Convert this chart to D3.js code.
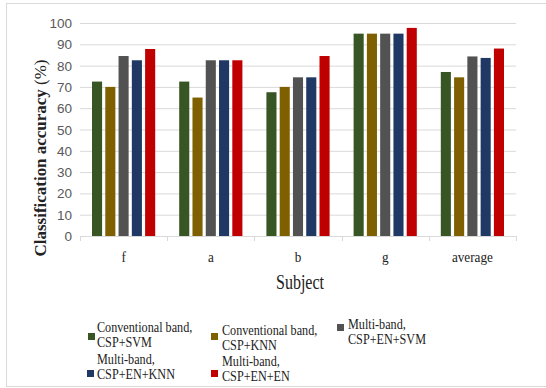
<!DOCTYPE html>
<html><head><meta charset="utf-8">
<script src="https://cdn.jsdelivr.net/npm/d3@7"></script>
<style>body{margin:0;background:#fff}svg{display:block}</style>
</head><body>
<script>
const categories = ["f", "a", "b", "g", "average"];
const seriesNames = ["Conventional band, CSP+SVM", "Conventional band, CSP+KNN", "Multi-band, CSP+EN+SVM", "Multi-band, CSP+EN+KNN", "Multi-band, CSP+EN+EN"];
const legendLines = [["Conventional band,", "CSP+SVM"], ["Conventional band,", "CSP+KNN"], ["Multi-band,", "CSP+EN+SVM"], ["Multi-band,", "CSP+EN+KNN"], ["Multi-band,", "CSP+EN+EN"]];
const convSVM = [72.5, 72.5, 67.5, 95, 77];
const convKNN = [70, 65, 70, 95, 74.5];
const multiSVM = [84.5, 82.5, 74.5, 95, 84.3];
const multiKNN = [82.5, 82.5, 74.5, 95, 83.6];
const multiEN = [87.8, 82.5, 84.5, 97.7, 88];
const yTicks = [0, 10, 20, 30, 40, 50, 60, 70, 80, 90, 100];
const colors = ["#375623", "#7f6000", "#525252", "#1f3864", "#c00000"];
const series = [convSVM, convKNN, multiSVM, multiKNN, multiEN];

const W = 546, H = 388;
const SERIF = "'Liberation Serif', 'Times New Roman', serif";
const svg = d3.select("body").append("svg").attr("width", W).attr("height", H);
svg.append("rect").attr("x", 6.5).attr("y", 3.5).attr("width", 545).attr("height", 383)
  .attr("fill", "none").attr("stroke", "#d9d9d9");

const x0 = d3.scaleBand().domain(categories).range([80, 516]).paddingInner(0).paddingOuter(0);
const x1 = d3.scaleBand().domain(d3.range(5)).range([12, x0.bandwidth() - 12]).paddingInner(0.24).paddingOuter(0);
const y = d3.scaleLinear().domain([0, 100]).range([236, 23]);

// grid
svg.append("g").selectAll("line").data(yTicks.filter(d => d > 0)).join("line")
  .attr("x1", 80).attr("x2", 516).attr("y1", d => y(d) + 0.5).attr("y2", d => y(d) + 0.5)
  .attr("stroke", "#d9d9d9").attr("stroke-width", 1);

// y labels
svg.append("g").selectAll("text").data(yTicks).join("text")
  .attr("x", 72).attr("y", d => y(d) + 5).attr("text-anchor", "end")
  .attr("font-family", "'Liberation Sans', Arial, sans-serif").attr("font-size", 13.5)
  .attr("fill", "#595959").text(d => d);

// bars
const g = svg.append("g");
categories.forEach((c, i) => {
  series.forEach((s, j) => {
    g.append("rect")
      .attr("x", x0(c) + x1(j)).attr("width", x1.bandwidth())
      .attr("y", y(s[i])).attr("height", y(0) - y(s[i]))
      .attr("fill", colors[j]);
  });
});

// x axis
const xAxis = svg.append("g");
xAxis.append("line").attr("x1", 80).attr("x2", 516).attr("y1", 236.5).attr("y2", 236.5).attr("stroke", "#d9d9d9");
const bounds = categories.map(c => x0(c)).concat([x0.range()[1]]);
xAxis.selectAll("line.tk").data(bounds).join("line").attr("class", "tk")
  .attr("x1", d => Math.round(d) + 0.5).attr("x2", d => Math.round(d) + 0.5)
  .attr("y1", 236).attr("y2", 241).attr("stroke", "#d9d9d9");
xAxis.selectAll("text").data(categories).join("text")
  .attr("transform", d => `translate(${x0(d) + x0.bandwidth() / 2},262) scale(0.85,1)`)
  .attr("text-anchor", "middle")
  .attr("font-family", SERIF).attr("font-size", 15.5).attr("fill", "#222")
  .text(d => d);

svg.append("text").attr("transform", "translate(300,289) scale(0.8,1)").attr("text-anchor", "middle")
  .attr("font-family", SERIF).attr("font-size", 20).attr("fill", "#222")
  .text("Subject");

const yt = svg.append("text").attr("transform", "translate(46,158) rotate(-90)")
  .attr("text-anchor", "middle").attr("font-family", SERIF)
  .attr("font-size", 17.5).attr("fill", "#222")
  .attr("textLength", 197).attr("lengthAdjust", "spacingAndGlyphs");
yt.append("tspan").attr("font-weight", "bold").text("Classification accuracy");
yt.append("tspan").text(" (%)");

// legend
const legPos = [
  {sx: 88, sy: 333, tx: 97, ty: 332},
  {sx: 211, sy: 333, tx: 222, ty: 335},
  {sx: 337, sy: 324, tx: 348, ty: 329},
  {sx: 87, sy: 370, tx: 97, ty: 364},
  {sx: 211, sy: 370, tx: 222, ty: 366}
];
legPos.forEach((p, i) => {
  svg.append("rect").attr("x", p.sx).attr("y", p.sy).attr("width", 7).attr("height", 7).attr("fill", colors[i]);
  const t = svg.append("text").attr("transform", `translate(${p.tx},0) scale(0.84,1)`)
    .attr("font-family", SERIF).attr("font-size", 14.5).attr("fill", "#222");
  legendLines[i].forEach((ln, k) => {
    t.append("tspan").attr("x", 0).attr("y", p.ty + k * 15.5).text(ln);
  });
});
</script>
</body></html>
